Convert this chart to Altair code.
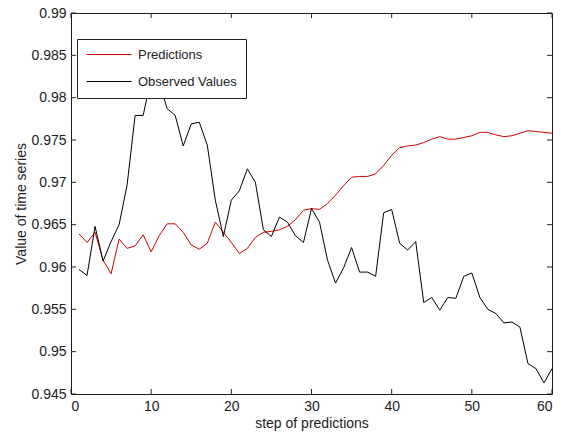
import altair as alt
import pandas as pd

steps = list(range(1, 61))

predictions = [
    0.9639, 0.9629, 0.9641, 0.9608, 0.9592, 0.9633, 0.9622, 0.9625, 0.9638, 0.9618,
    0.9637, 0.9651, 0.9651, 0.9641, 0.9626, 0.9621, 0.9628, 0.9653, 0.9641, 0.9629,
    0.9616, 0.9622, 0.9635, 0.9641, 0.9642, 0.9644, 0.9648, 0.9656, 0.9667, 0.9669,
    0.9668, 0.9675, 0.9685, 0.9696, 0.9706, 0.9707, 0.9707, 0.9710, 0.9720, 0.9732,
    0.9741, 0.9743, 0.9744, 0.9747, 0.9751, 0.9754, 0.9751, 0.9751, 0.9753, 0.9755,
    0.9759, 0.9759, 0.9756, 0.9754, 0.9755, 0.9758, 0.9761, 0.9760, 0.9759, 0.9758,
]

observed = [
    0.9597, 0.9590, 0.9648, 0.9607, 0.9630, 0.9650, 0.9697, 0.9779, 0.9779, 0.9823,
    0.9818, 0.9787, 0.9779, 0.9743, 0.9769, 0.9771, 0.9744, 0.9679, 0.9636, 0.9679,
    0.9690, 0.9716, 0.9700, 0.9644, 0.9636, 0.9659, 0.9653, 0.9637, 0.9629, 0.9669,
    0.9653, 0.9608, 0.9581, 0.9599, 0.9623, 0.9594, 0.9594, 0.9589, 0.9664, 0.9668,
    0.9628, 0.9620, 0.9630, 0.9558, 0.9564, 0.9549, 0.9564, 0.9563, 0.9589, 0.9593,
    0.9564, 0.9550, 0.9545, 0.9534, 0.9535, 0.9529, 0.9486, 0.9480, 0.9463, 0.9480,
]

series_names = ["Predictions", "Observed Values"]
series_colors = ["#d40000", "#000000"]

x_ticks = [0, 10, 20, 30, 40, 50, 60]
y_ticks = [0.945, 0.95, 0.955, 0.96, 0.965, 0.97, 0.975, 0.98, 0.985, 0.99]

W, H = 481, 381
FONT = "Liberation Sans"
TXT = "#222222"

df = pd.DataFrame({
    "step": steps * 2,
    "value": predictions + observed,
    "series": [series_names[0]] * len(steps) + [series_names[1]] * len(steps),
})
xt = pd.DataFrame({"step": x_ticks})
yt = pd.DataFrame({"value": y_ticks})

xscale = alt.Scale(domain=[0, 60], nice=False, zero=False)
yscale = alt.Scale(domain=[0.945, 0.99], nice=False, zero=False)

xaxis = alt.Axis(values=x_ticks, title="step of predictions", grid=False,
                 tickSize=0, domain=False, labelPadding=5, format="d",
                 titleY=33, titleBaseline="alphabetic")
yaxis = alt.Axis(values=y_ticks, title="Value of time series", grid=False,
                 tickSize=0, domain=False, labelPadding=5, format=".3~f",
                 titleX=-46, titleBaseline="alphabetic")

lines = alt.Chart(df).mark_line(strokeWidth=1).encode(
    x=alt.X("step:Q", scale=xscale, axis=xaxis),
    y=alt.Y("value:Q", scale=yscale, axis=yaxis),
    color=alt.Color("series:N",
                    scale=alt.Scale(domain=series_names, range=series_colors),
                    legend=alt.Legend(title=None, orient="none", legendX=6, legendY=26,
                                      symbolType="stroke", symbolSize=2025,
                                      symbolStrokeWidth=1, fillColor="white",
                                      strokeColor="#222222", padding=9, rowPadding=13,
                                      clipHeight=13,
                                      labelFontSize=13, labelFont=FONT, labelColor=TXT,
                                      labelOffset=6)),
    order=alt.Order("step:Q"),
)

tick_len = 5
bottom_ticks = alt.Chart(xt).mark_rule(color="#222222", strokeWidth=1).encode(
    x=alt.X("step:Q", scale=xscale, axis=xaxis),
    y=alt.value(H - tick_len), y2=alt.value(H))
top_ticks = alt.Chart(xt).mark_rule(color="#222222", strokeWidth=1).encode(
    x=alt.X("step:Q", scale=xscale, axis=xaxis),
    y=alt.value(0), y2=alt.value(tick_len))
left_ticks = alt.Chart(yt).mark_rule(color="#222222", strokeWidth=1).encode(
    y=alt.Y("value:Q", scale=yscale, axis=yaxis),
    x=alt.value(0), x2=alt.value(tick_len))
right_ticks = alt.Chart(yt).mark_rule(color="#222222", strokeWidth=1).encode(
    y=alt.Y("value:Q", scale=yscale, axis=yaxis),
    x=alt.value(W - tick_len), x2=alt.value(W))

chart = alt.layer(lines, bottom_ticks, top_ticks, left_ticks, right_ticks).properties(
    width=W, height=H,
    padding={"left": 71, "top": 13, "right": 9, "bottom": 45},
    autosize=alt.AutoSizeParams(type="none"),
    background="white",
).configure_view(
    stroke="#1a1a1a", strokeWidth=1
).configure_axis(
    labelFont=FONT, labelFontSize=14, labelColor=TXT,
    titleFont=FONT, titleFontSize=14, titleColor=TXT, titleFontWeight="normal",
)

chart.save("out.html", embed_options={"renderer": "svg", "actions": False})
